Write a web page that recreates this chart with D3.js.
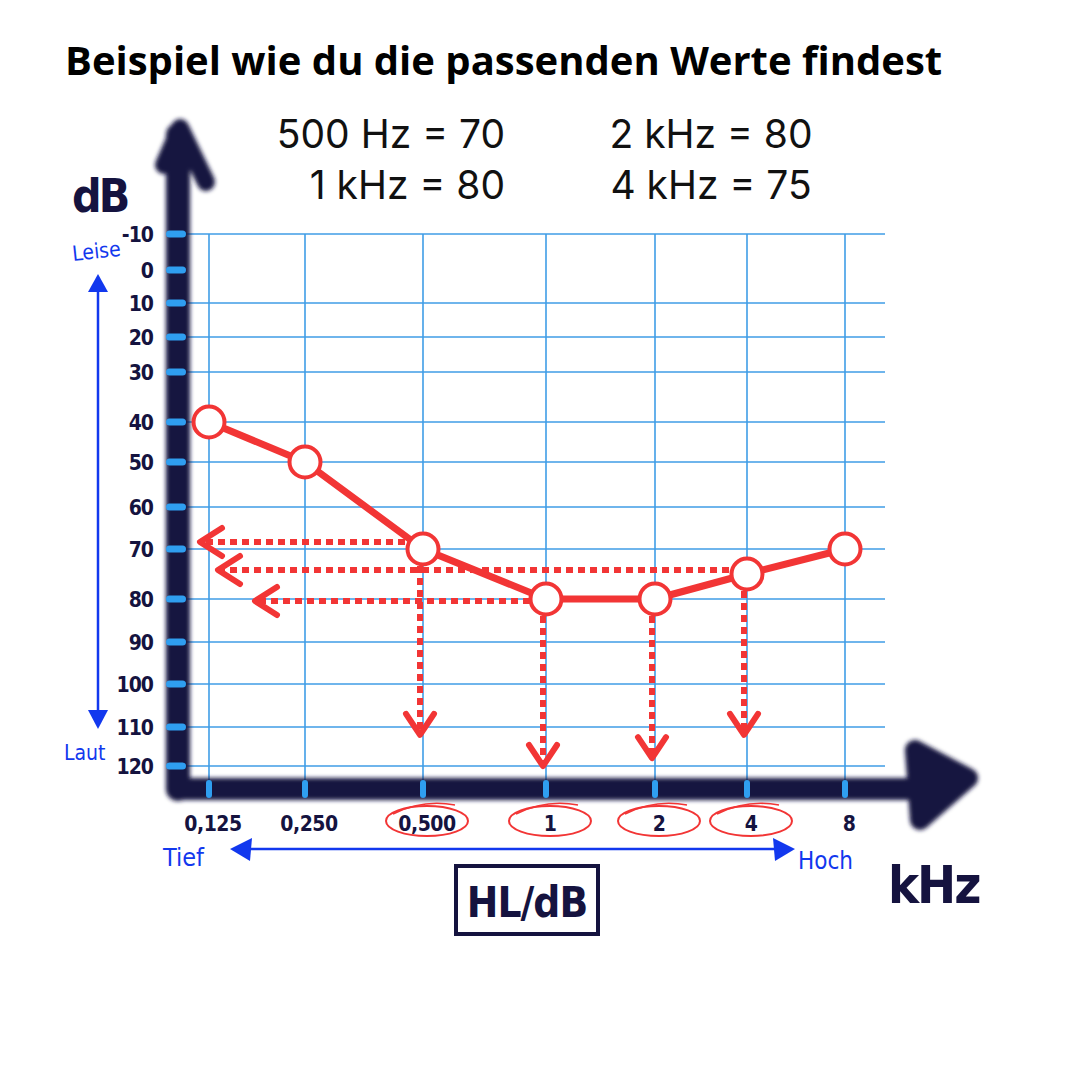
<!DOCTYPE html>
<html><head><meta charset="utf-8">
<script src="https://cdn.jsdelivr.net/npm/d3@7"></script>
<style>html,body{margin:0;padding:0;background:#fff}</style>
</head><body>
<script>
// ---- data ----
const title = "Beispiel wie du die passenden Werte findest";
const notesLeft = ["500 Hz = 70", "1 kHz = 80"];
const notesRight = ["2 kHz = 80", "4 kHz = 75"];
const freqs = [0.125, 0.25, 0.5, 1, 2, 4, 8];
const freqLabels = ["0,125", "0,250", "0,500", "1", "2", "4", "8"];
const thresholds = [40, 50, 70, 80, 80, 75, 70];
const dbTicks = [-10, 0, 10, 20, 30, 40, 50, 60, 70, 80, 90, 100, 110, 120];
const circledFreqs = [0.5, 1, 2, 4];
const dropArrowEnds = [112, 120, 118, 112];       // dB where the down arrows end
const readFreqs = [0.5, 4, 1];                     // points read back to the dB axis
const readValues = [70, 75, 80];

const W = 1080, H = 1080;
const red = "#f23535", navy = "#15133f", grid = "#3f9de6", blue = "#1238ee";
const hand = "'DejaVu Sans Condensed','DejaVu Sans',sans-serif";

const svg = d3.select("body").append("svg").attr("width", W).attr("height", H)
  .style("font-family", "'Open Sans','Noto Sans',sans-serif");
const defs = svg.append("defs");
defs.append("filter").attr("id", "blur").attr("x", "-10%").attr("y", "-10%").attr("width", "120%").attr("height", "120%")
  .append("feGaussianBlur").attr("stdDeviation", 2.2);
defs.append("filter").attr("id", "soft")
  .append("feGaussianBlur").attr("stdDeviation", 0.9);

// scales (hand drawn grid, uneven spacing)
const x = d3.scaleLinear().domain(freqs).range([209, 305, 423, 546, 655, 747, 845]);
const y = d3.scaleLinear().domain(dbTicks).range([234, 270, 303, 337, 372, 422, 462, 507, 549, 599, 642, 684, 727, 766]);
const axisX = 178, axisY = 789, gridRight = 885;

// title + notes
svg.append("text").attr("x", 65).attr("y", 75).attr("font-size", 40).attr("font-weight", 700)
  .attr("fill", "#000").text(title);
const noteFont = "Inter,'Open Sans',sans-serif";
notesLeft.forEach((t, i) => svg.append("text").attr("x", 505).attr("y", 148 + i * 51)
  .attr("text-anchor", "end").attr("font-family", noteFont).attr("font-size", 39).attr("fill", "#111").text(t));
notesRight.forEach((t, i) => svg.append("text").attr("x", 711).attr("y", 148 + i * 51)
  .attr("text-anchor", "middle").attr("font-family", noteFont).attr("font-size", 39).attr("fill", "#111").text(t));

// grid
const g = svg.append("g");
g.selectAll("line.h").data(dbTicks.filter(d => d !== 0)).join("line")
  .attr("x1", axisX).attr("x2", gridRight).attr("y1", d => y(d)).attr("y2", d => y(d))
  .attr("stroke", grid).attr("stroke-width", 1.6);
g.selectAll("line.v").data(freqs).join("line")
  .attr("x1", d => x(d)).attr("x2", d => x(d)).attr("y1", y(-10)).attr("y2", axisY)
  .attr("stroke", grid).attr("stroke-width", 1.6);
// 0 dB reference line
g.append("line").attr("x1", axisX).attr("x2", gridRight).attr("y1", y(0)).attr("y2", y(0))
  .attr("stroke", "#0630f5").attr("stroke-width", 10).attr("stroke-linecap", "round").attr("filter", "url(#soft)");

// axes (thick marker strokes)
const ax = svg.append("g").attr("filter", "url(#blur)").attr("stroke", navy).attr("fill", "none")
  .attr("stroke-linecap", "round").attr("stroke-linejoin", "round");
ax.append("line").attr("x1", axisX).attr("x2", axisX).attr("y1", 135).attr("y2", axisY).attr("stroke-width", 24);
ax.append("line").attr("x1", axisX).attr("x2", 950).attr("y1", axisY).attr("y2", axisY).attr("stroke-width", 22);
ax.append("path").attr("d", `M${axisX - 14},${165} L${axisX + 2},${128} L${axisX + 28},${182}`).attr("stroke-width", 18);
ax.append("path").attr("d", `M915,750 L968,778 L920,820 Z`).attr("stroke-width", 20).attr("fill", navy);

// axis ticks (light blue dabs)
svg.append("g").selectAll("rect").data(dbTicks).join("rect")
  .attr("x", axisX - 12).attr("y", d => y(d) - 3.5).attr("width", 20).attr("height", 7).attr("rx", 3.5)
  .attr("fill", "#2f9ef0");
svg.append("g").selectAll("rect").data(freqs).join("rect")
  .attr("x", d => x(d) - 3).attr("y", axisY - 9).attr("width", 6).attr("height", 18).attr("rx", 3)
  .attr("fill", "#2f9ef0");

// y labels
svg.append("g").selectAll("text").data(dbTicks).join("text")
  .attr("x", 153).attr("y", d => y(d) + 8).attr("text-anchor", "end")
  .attr("font-family", hand).attr("font-weight", 700).attr("font-size", 21).attr("fill", navy)
  .attr("letter-spacing", -1).text(d => d);
svg.append("text").attr("x", 72).attr("y", 212).attr("font-family", hand).attr("font-weight", 700)
  .attr("font-size", 46).attr("fill", navy).attr("letter-spacing", -3).text("dB");

// x labels
svg.append("g").selectAll("text").data(freqs).join("text")
  .attr("x", (d) => x(d) + 4).attr("y", 831).attr("text-anchor", "middle")
  .attr("font-family", hand).attr("font-weight", 700).attr("font-size", 21).attr("fill", navy)
  .attr("letter-spacing", -0.5).text((d, i) => freqLabels[i]);
svg.append("text").attr("x", 888).attr("y", 903).attr("font-family", hand).attr("font-weight", 700)
  .attr("font-size", 52).attr("fill", navy).attr("letter-spacing", -2).text("kHz");

// circled labels
svg.append("g").selectAll("ellipse").data(circledFreqs).join("ellipse")
  .attr("cx", d => x(d) + 4).attr("cy", 821).attr("rx", 41).attr("ry", 15)
  .attr("fill", "none").attr("stroke", red).attr("stroke-width", 2);
svg.append("g").selectAll("path").data(circledFreqs).join("path")
  .attr("d", d => `M${x(d) - 30},${814} Q${x(d)},${799} ${x(d) + 32},${805}`)
  .attr("fill", "none").attr("stroke", red).attr("stroke-width", 1.6);

// HL/dB box
svg.append("rect").attr("x", 456).attr("y", 866).attr("width", 142).attr("height", 68)
  .attr("fill", "none").attr("stroke", navy).attr("stroke-width", 4);
svg.append("text").attr("x", 527).attr("y", 917).attr("text-anchor", "middle").attr("font-family", hand)
  .attr("font-weight", 700).attr("font-size", 42).attr("fill", navy).attr("letter-spacing", -1).text("HL/dB");

// blue direction arrows
const bl = svg.append("g").attr("fill", blue).attr("font-family", hand).attr("font-size", 21);
bl.append("line").attr("x1", 98).attr("x2", 98).attr("y1", 288).attr("y2", 712).attr("stroke", blue).attr("stroke-width", 2.5);
bl.append("path").attr("d", "M88,292 L98,274 L108,292 Z");
bl.append("path").attr("d", "M88,710 L98,729 L108,710 Z");
bl.append("text").attr("x", 72).attr("y", 258).attr("transform", "rotate(-6 100 250)").text("Leise");
bl.append("text").attr("x", 64).attr("y", 760).text("Laut");
bl.append("line").attr("x1", 240).attr("x2", 780).attr("y1", 849).attr("y2", 849).attr("stroke", blue).attr("stroke-width", 2.5);
bl.append("path").attr("d", "M230,849 L252,838 L250,861 Z");
bl.append("path").attr("d", "M795,849 L773,838 L775,861 Z");
bl.append("text").attr("x", 163).attr("y", 866).attr("font-size", 25).text("Tief");
bl.append("text").attr("x", 798).attr("y", 869).attr("font-size", 24).text("Hoch");

// red dotted reading arrows
const ar = svg.append("g").attr("stroke", red).attr("fill", "none");
circledFreqs.forEach((f, i) => {
  const v = thresholds[freqs.indexOf(f)];
  const cx = x(f) - 3, y0 = y(v) + 17, y1 = y(dropArrowEnds[i]);
  ar.append("line").attr("x1", cx).attr("x2", cx).attr("y1", y0).attr("y2", y1 - 4)
    .attr("stroke-width", 6).attr("stroke-dasharray", "7,5");
  ar.append("path").attr("d", `M${cx - 14},${y1 - 21} L${cx},${y1} L${cx + 14},${y1 - 21}`)
    .attr("stroke-width", 6).attr("stroke-linecap", "round").attr("stroke-linejoin", "round");
});
const tips = [x(freqs[0]) - 9, x(freqs[0]) + 9, x(freqs[0]) + 46];
readFreqs.forEach((f, i) => {
  const yy = y(readValues[i]) + (i === 0 ? -7 : i === 1 ? -4 : 2);
  const x0 = x(f) - (i === 2 ? 16 : 6), tip = tips[i];
  ar.append("line").attr("x1", x0).attr("x2", tip + 4).attr("y1", yy).attr("y2", yy)
    .attr("stroke-width", 6).attr("stroke-dasharray", "7,5");
  ar.append("path").attr("d", `M${tip + 22},${yy - 14} L${tip},${yy} L${tip + 22},${yy + 14}`)
    .attr("stroke-width", 6).attr("stroke-linecap", "round").attr("stroke-linejoin", "round");
});

// audiogram line + points
const pts = freqs.map((f, i) => [x(f), y(thresholds[i])]);
svg.append("path").attr("d", d3.line()(pts)).attr("fill", "none").attr("stroke", red)
  .attr("stroke-width", 7).attr("stroke-linejoin", "round");
svg.append("g").selectAll("circle").data(pts).join("circle")
  .attr("cx", d => d[0]).attr("cy", d => d[1]).attr("r", 15.5)
  .attr("fill", "#fff").attr("stroke", red).attr("stroke-width", 4);
</script>
</body></html>
